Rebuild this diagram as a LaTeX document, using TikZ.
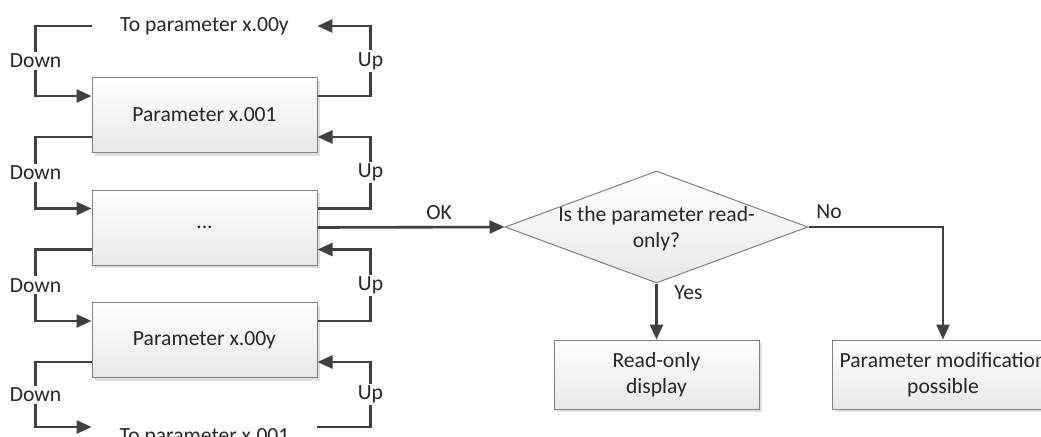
\documentclass[tikz,border=0pt]{standalone}
\usepackage{fontspec}
\setmainfont{Carlito}
\usetikzlibrary{arrows.meta,shapes.geometric,shadows,calc}
\begin{document}
\begin{tikzpicture}[x=0.5pt,y=-0.5pt,
    >={Triangle[length=7.5pt,width=6.5pt]},
    every node/.style={font=\fontsize{10.8}{13}\selectfont, text=black!85},
    conn/.style={draw=black!75, line width=1.3pt},
    box/.style={draw=black!50, line width=0.5pt, top color=white, bottom color=black!9,
      drop shadow={shadow xshift=1.5pt, shadow yshift=-1.5pt, fill=black!12, opacity=1},
      minimum width=112.5pt, minimum height=37.5pt},
    lab/.style={fill=white, inner sep=1pt}]
  \useasboundingbox (0,0) rectangle (1041,436);
  \clip (0,0) rectangle (1041,436);
  \node[box] (p1) at (204.5,115) {Parameter x.001};
  \node[box] (p2) at (204.5,227.5) {...};
  \node[box] (p3) at (204.5,340) {Parameter x.00y};
  \node[minimum width=112.5pt] (totop) at (204.5,26) {To parameter x.00y};
  \node[minimum width=112.5pt] (tobot) at (204.5,437) {To parameter x.001};
  \draw[conn,->] (totop.west) -- ++(-56,0) |- node[lab,pos=0.25]{Down} ($(p1.west)+(0,-19)$);
  \draw[conn,->] ($(p1.east)+(0,-19)$) -- ++(53,0) |- node[lab,pos=0.25]{Up} (totop.east);
  \draw[conn,->] ($(p1.west)+(0,22)$) -- ++(-56,0) |- node[lab,pos=0.25]{Down} ($(p2.west)+(0,-19)$);
  \draw[conn,->] ($(p2.east)+(0,-19)$) -- ++(53,0) |- node[lab,pos=0.25]{Up} ($(p1.east)+(0,22)$);
  \draw[conn,->] ($(p2.west)+(0,22)$) -- ++(-56,0) |- node[lab,pos=0.25]{Down} ($(p3.west)+(0,-19)$);
  \draw[conn,->] ($(p3.east)+(0,-19)$) -- ++(53,0) |- node[lab,pos=0.25]{Up} ($(p2.east)+(0,22)$);
  \draw[conn,->] ($(p3.west)+(0,22)$) -- ++(-56,0) |- node[lab,pos=0.25]{Down} ($(tobot.west)+(0,-10)$);
  \draw[conn,->] ($(tobot.east)+(0,-10)$) -- ++(53,0) |- node[lab,pos=0.25]{Up} ($(p3.east)+(0,22)$);
  \node[diamond, draw=black!50, line width=0.5pt, top color=white, bottom color=black!9,
    minimum width=151.5pt, minimum height=56pt, inner sep=0pt] (ro) at (656.5,227) {};
  \node[align=center] (roq) at (656.5,229) {Is the parameter read-\\only?};
  \node[box, minimum width=102.5pt, minimum height=34.5pt, align=center] (rod) at (656.5,374.5) {Read-only\\display};
  \node[box, minimum width=110pt, minimum height=34.5pt, align=center] (mod) at (943,374.5) {Parameter modification\\possible};
  \draw[conn,->] (p2.east) -- node[above,pos=0.65]{OK} (ro.west);
  \draw[conn,->] (ro.south) -- node[pos=0,anchor=north west,xshift=5pt,yshift=3pt]{Yes} (rod.north);
  \draw[conn,->] (ro.east) -| node[pos=0,anchor=south west]{No} (mod.north);
\end{tikzpicture}
\end{document}
